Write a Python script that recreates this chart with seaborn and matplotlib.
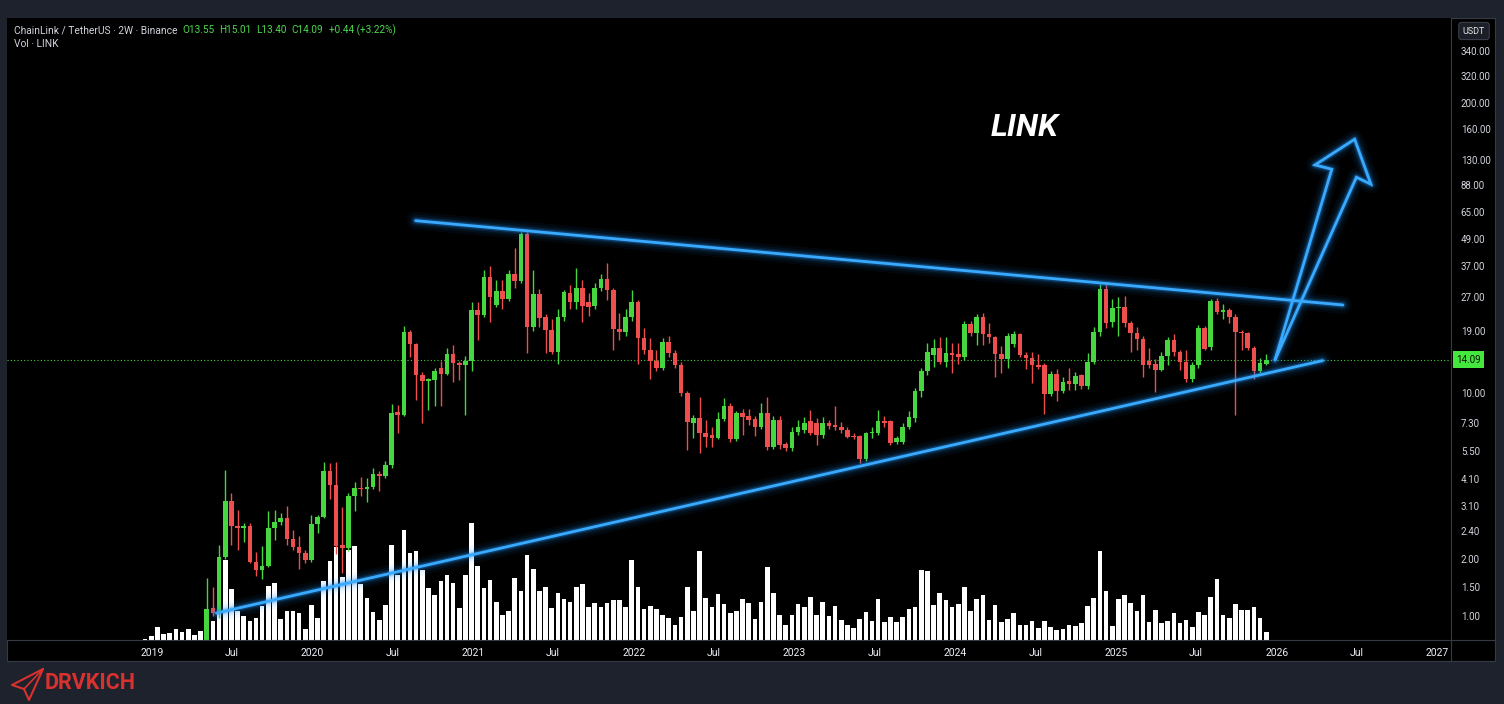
import numpy as np
import pandas as pd
import matplotlib
matplotlib.use("Agg")
import matplotlib.pyplot as plt
from matplotlib.patches import Rectangle
from matplotlib.lines import Line2D
from matplotlib.ticker import NullLocator
import matplotlib.transforms as mtransforms
import seaborn as sns

# LINK / USDT, 2W candles
first_candle = "2018-12-17"

opens = [
    0.30, 0.33, 0.45, 0.44, 0.46, 0.43, 0.44, 0.48, 0.56, 0.50,
    0.55, 1.08, 1.03, 1.83, 3.29, 2.52, 2.49, 2.52, 1.74, 1.60,
    1.68, 2.47, 2.64, 2.74, 2.21, 2.03, 1.91, 1.78, 2.59, 2.79,
    4.47, 3.87, 2.08, 2.01, 3.45, 3.76, 3.70, 3.80, 4.32, 4.25,
    4.75, 8.20, 8.00, 18.8, 16.5, 12.0, 11.36, 11.4, 12.9, 12.2,
    15.0, 13.6, 13.4, 13.9, 23.6, 22.4, 33.2, 24.8, 28.5, 26.4,
    34.1, 31.9, 51.6, 19.8, 27.8, 22.0, 19.2, 15.2, 22.0, 28.1,
    25.7, 29.7, 25.5, 24.5, 29.7, 32.4, 29.0, 19.4, 18.8, 21.8,
    25.7, 17.6, 15.5, 13.9, 12.9, 17.0, 15.1, 13.4, 10.0, 7.31,
    7.70, 6.60, 6.45, 6.30, 7.65, 8.74, 6.20, 8.16, 7.90, 7.65,
    7.00, 8.10, 5.70, 7.56, 5.90, 5.65, 6.71, 6.80, 7.50, 7.30,
    6.48, 7.36, 7.20, 7.00, 6.83, 6.40, 6.40, 5.04, 6.60, 6.60,
    7.50, 7.50, 6.00, 6.00, 7.02, 7.70, 10.2, 12.5, 14.8, 15.9,
    13.8, 15.1, 14.9, 14.5, 20.4, 18.5, 21.8, 18.4, 17.9, 15.0,
    14.2, 16.5, 18.3, 14.8, 14.3, 13.4, 13.4, 9.9, 12.2, 10.2,
    11.3, 11.0, 12.0, 10.7, 13.8, 18.8, 29.2, 20.9, 24.0, 24.3,
    20.5, 18.5, 17.4, 13.9, 13.5, 12.7, 14.6, 17.3, 15.3, 13.8,
    11.5, 13.4, 19.5, 16.1, 25.9, 23.0, 23.6, 22.0, 18.8, 18.5,
    15.9, 12.6, 13.55,
]

highs = [
    0.36, 0.50, 0.52, 0.50, 0.50, 0.48, 0.52, 0.60, 0.62, 0.62,
    1.48, 1.35, 2.08, 4.52, 3.57, 2.99, 2.62, 2.60, 1.94, 2.05,
    2.94, 2.99, 2.89, 3.12, 2.43, 2.28, 1.97, 2.84, 2.83, 4.89,
    4.84, 4.92, 3.09, 3.57, 4.00, 4.21, 4.14, 4.59, 4.48, 4.97,
    8.90, 8.80, 20.0, 19.2, 16.8, 12.4, 11.7, 13.0, 13.9, 15.9,
    16.4, 13.9, 14.7, 25.7, 25.7, 35.6, 37.1, 32.1, 32.1, 35.4,
    44.5, 52.9, 52.5, 35.6, 29.2, 22.5, 21.4, 23.7, 29.0, 30.5,
    36.3, 32.0, 28.2, 31.2, 34.1, 38.4, 29.5, 22.9, 23.9, 28.8,
    26.0, 19.5, 17.6, 15.5, 17.6, 18.0, 15.5, 13.8, 10.2, 7.96,
    9.63, 7.56, 7.00, 8.19, 9.47, 9.00, 8.30, 8.50, 8.50, 7.90,
    9.05, 9.63, 7.90, 7.90, 6.00, 7.06, 7.60, 7.78, 8.39, 7.70,
    7.78, 7.60, 8.74, 7.40, 7.00, 6.60, 6.50, 6.70, 7.06, 8.39,
    7.90, 7.60, 6.40, 7.30, 8.30, 10.5, 13.0, 16.7, 17.4, 17.8,
    17.8, 16.7, 16.7, 21.0, 21.0, 22.5, 22.8, 20.6, 18.0, 16.2,
    18.6, 19.0, 18.6, 15.2, 15.2, 15.0, 13.6, 12.5, 12.8, 11.8,
    13.0, 12.4, 12.1, 15.1, 19.8, 30.8, 30.8, 26.3, 26.9, 27.3,
    21.0, 19.8, 18.0, 15.9, 14.2, 15.3, 17.8, 18.3, 15.6, 15.5,
    13.7, 20.2, 20.0, 26.5, 26.7, 25.0, 24.0, 22.5, 19.2, 18.8,
    16.2, 14.3, 15.01,
]

lows = [
    0.28, 0.32, 0.40, 0.40, 0.42, 0.40, 0.42, 0.45, 0.48, 0.45,
    0.50, 1.00, 0.98, 1.80, 2.08, 1.98, 2.15, 1.72, 1.51, 1.46,
    1.65, 2.19, 2.55, 2.08, 1.98, 1.62, 1.73, 1.74, 2.35, 2.75,
    3.35, 1.90, 1.55, 1.95, 2.97, 3.45, 3.25, 3.70, 3.64, 4.15,
    4.60, 6.60, 7.90, 14.5, 9.30, 7.31, 8.40, 8.74, 8.74, 12.0,
    11.2, 11.4, 7.96, 12.5, 17.2, 22.0, 20.9, 24.2, 23.7, 25.8,
    29.5, 31.0, 15.1, 19.0, 19.8, 15.1, 15.0, 13.5, 21.0, 23.7,
    23.7, 20.9, 22.1, 23.7, 28.5, 26.1, 15.6, 17.3, 18.0, 21.0,
    13.5, 15.0, 11.5, 12.5, 12.7, 14.5, 13.0, 9.70, 5.55, 6.26,
    5.36, 5.74, 5.74, 6.20, 7.50, 6.05, 6.10, 6.48, 7.20, 6.40,
    6.90, 5.55, 5.60, 5.60, 5.50, 5.50, 6.50, 6.60, 6.45, 5.85,
    6.30, 6.90, 6.80, 6.60, 6.26, 6.20, 4.84, 4.95, 6.26, 6.50,
    7.00, 5.85, 5.90, 5.90, 6.90, 7.40, 9.60, 12.0, 13.1, 13.5,
    13.1, 12.3, 13.5, 14.0, 18.0, 16.4, 16.4, 16.8, 11.8, 12.3,
    12.9, 16.0, 14.5, 12.8, 11.05, 12.8, 8.05, 9.70, 9.24, 10.0,
    10.3, 10.3, 10.4, 10.4, 13.5, 18.0, 19.5, 19.8, 18.0, 19.8,
    15.3, 15.5, 11.8, 13.0, 10.1, 12.5, 13.4, 14.6, 12.7, 11.2,
    11.2, 13.0, 15.5, 15.6, 22.5, 21.5, 20.6, 7.96, 15.5, 15.5,
    11.5, 12.3, 13.40,
]

closes = [
    0.33, 0.45, 0.44, 0.46, 0.43, 0.44, 0.48, 0.56, 0.50, 0.55,
    1.07, 1.03, 1.83, 3.29, 2.52, 2.49, 2.52, 1.74, 1.60, 1.68,
    2.47, 2.64, 2.74, 2.21, 2.03, 1.91, 1.78, 2.59, 2.79, 4.47,
    3.87, 2.06, 2.01, 3.45, 3.76, 3.70, 3.80, 4.32, 4.25, 4.75,
    8.16, 8.00, 18.8, 16.5, 12.0, 11.36, 11.5, 12.6, 12.2, 14.96,
    13.6, 13.4, 13.9, 23.6, 22.4, 33.2, 27.0, 28.5, 26.4, 34.1,
    31.9, 51.6, 19.8, 27.8, 21.6, 19.2, 15.2, 22.0, 28.3, 25.7,
    29.7, 24.5, 24.4, 29.7, 32.4, 29.0, 19.4, 18.8, 21.8, 25.7,
    17.6, 15.5, 13.9, 12.9, 17.0, 15.1, 13.4, 9.97, 7.43, 7.70,
    6.60, 6.33, 6.30, 7.65, 8.74, 6.20, 8.16, 7.83, 7.60, 7.06,
    8.10, 5.71, 7.56, 5.85, 5.65, 6.71, 7.06, 7.36, 6.64, 6.48,
    7.36, 7.11, 7.00, 6.83, 6.37, 6.33, 5.04, 6.60, 6.65, 7.51,
    7.30, 5.98, 6.30, 7.02, 7.78, 10.2, 12.5, 15.3, 15.9, 13.8,
    15.1, 14.8, 14.5, 20.4, 18.5, 21.8, 18.4, 17.9, 14.96, 14.2,
    18.0, 18.3, 14.8, 14.3, 13.4, 13.1, 9.9, 12.2, 10.2, 11.2,
    11.0, 11.96, 10.7, 13.8, 18.8, 29.2, 20.5, 24.0, 24.3, 20.5,
    18.5, 17.4, 13.4, 13.4, 12.7, 14.6, 17.3, 15.3, 13.8, 11.5,
    13.4, 19.5, 15.7, 25.9, 23.1, 23.5, 22.0, 18.8, 18.5, 15.9,
    12.6, 13.6, 14.09,
]

# volume, millions of LINK
volumes = [
    3, 9, 27, 13, 15, 23, 17, 23, 10, 19,
    50, 39, 60, 161, 103, 58, 48, 38, 45, 68,
    108, 115, 43, 58, 59, 55, 23, 71, 45, 119,
    159, 186, 126, 181, 188, 113, 85, 56, 40, 71,
    190, 131, 221, 175, 178, 140, 105, 90, 118, 130,
    115, 65, 130, 235, 149, 105, 120, 77, 50, 59,
    125, 99, 171, 143, 99, 106, 65, 95, 82, 77,
    107, 113, 67, 75, 67, 75, 80, 80, 67, 160,
    107, 63, 68, 63, 50, 45, 30, 47, 107, 58,
    179, 85, 66, 93, 73, 55, 58, 83, 74, 43,
    76, 147, 95, 51, 31, 51, 73, 67, 87, 51,
    77, 48, 69, 41, 31, 25, 43, 57, 38, 83,
    37, 46, 37, 47, 63, 66, 141, 139, 71, 95,
    80, 66, 73, 107, 58, 83, 91, 40, 71, 37,
    43, 54, 30, 30, 38, 25, 39, 26, 21, 23,
    30, 29, 34, 69, 85, 179, 99, 28, 83, 90,
    75, 58, 91, 36, 61, 35, 39, 55, 34, 41,
    27, 56, 50, 87, 123, 51, 45, 73, 61, 61,
    67, 45, 16,
]

last_price = 14.09

# drawn trendlines and the breakout arrow
upper_line_dates = ["2020-08-23", "2026-05-31"]
upper_line_prices = [59.2, 24.8]
lower_line_dates = ["2019-05-28", "2026-04-15"]
lower_line_prices = [1.03, 13.96]
arrow_dates = ["2025-12-28", "2026-05-06", "2026-03-29", "2026-06-27",
               "2026-08-03", "2026-07-01", "2025-12-28"]
arrow_prices = [14.06, 100.7, 105.3, 137.3, 86.3, 92.7, 14.06]

# axes labels
x_tick_dates = ["2019-01-01", "2019-07-01", "2020-01-01", "2020-07-01",
                "2021-01-01", "2021-07-01", "2022-01-01", "2022-07-01",
                "2023-01-01", "2023-07-01", "2024-01-01", "2024-07-01",
                "2025-01-01", "2025-07-01", "2026-01-01", "2026-07-01",
                "2027-01-01"]
x_tick_labels = ["2019", "Jul", "2020", "Jul", "2021", "Jul", "2022", "Jul",
                 "2023", "Jul", "2024", "Jul", "2025", "Jul", "2026", "Jul",
                 "2027"]
y_tick_values = [340, 264, 200, 153, 111, 85.6, 65, 49, 37, 27, 19, 10,
                 7.3, 5.5, 4.1, 3.1, 2.4, 1.8, 1.35, 1.0]
y_tick_labels = ["340.00", "320.00", "200.00", "160.00", "130.00", "88.00",
                 "65.00", "49.00", "37.00", "27.00", "19.00", "10.00",
                 "7.30", "5.50", "4.10", "3.10", "2.40", "2.00", "1.50",
                 "1.00"]

GREEN = "#45d640"
RED = "#ee4e4e"
LINE = "#3aaaff"
GLOW = "#1c8cf0"
PAGE = "#1e222d"
SEP = "#363a45"
TXT = "#d1d4dc"

sns.set_style("dark")
plt.rcParams["font.family"] = ["Roboto", "DejaVu Sans"]

W, H = 1504, 704


def fx(x):
    return x / W


def fy(y):
    return 1 - y / H


fig = plt.figure(figsize=(W / 100, H / 100), dpi=100)
fig.patch.set_facecolor(PAGE)

# black chart panel with price scale and time scale
fig.add_artist(Rectangle((fx(7), fy(661)), fx(1495) - fx(7), fy(18) - fy(661),
                         transform=fig.transFigure, facecolor="black",
                         edgecolor=SEP, lw=0.8, zorder=-5))

dates = pd.date_range(first_candle, periods=len(closes), freq="14D")
o = np.array(opens)
c = np.array(closes)
up = c >= o
colors = np.where(up, GREEN, RED)

pos = [fx(7), fy(640), fx(1451) - fx(7), fy(18) - fy(640)]
ax_vol = fig.add_axes(pos)
ax = fig.add_axes(pos, sharex=ax_vol)
ax.set_zorder(ax_vol.get_zorder() + 1)
ax.patch.set_visible(False)
ax_vol.set_facecolor("black")

# volume
ax_vol.bar(dates, volumes, width=10.5, color="white", edgecolor="none")
ax_vol.set_ylim(0, 1250)
ax_vol.set_yticks([])
ax_vol.tick_params(axis="x", length=0, labelbottom=False)

# candles
body_low = np.minimum(o, c)
body_h = np.maximum(np.abs(c - o), body_low * 0.012)
ax.vlines(dates, lows, highs, colors=colors, lw=1.0, zorder=3)
ax.bar(dates, body_h, bottom=body_low, width=10.5, color=colors,
       edgecolor="none", zorder=4)

ax.set_yscale("log")
ax.set_ylim(0.78, 480)
ax.set_xlim(pd.Timestamp("2018-02-06"), pd.Timestamp("2027-02-01"))

# last price line
ax.axhline(last_price, color=GREEN, lw=0.8, ls=(0, (1, 2)), zorder=2)


def glow(xs, ys):
    xs = pd.to_datetime(xs)
    for lw, a in [(13, 0.05), (9, 0.08), (6, 0.14), (3.8, 0.3)]:
        sns.lineplot(x=xs, y=ys, ax=ax, color=GLOW, lw=lw, alpha=a,
                     sort=False, estimator=None, zorder=6,
                     solid_capstyle="round", solid_joinstyle="round")
    sns.lineplot(x=xs, y=ys, ax=ax, color=LINE, lw=2.0, sort=False,
                 estimator=None, zorder=7, solid_capstyle="round",
                 solid_joinstyle="miter")


glow(upper_line_dates, upper_line_prices)
glow(lower_line_dates, lower_line_prices)
glow(arrow_dates, arrow_prices)

ax.set_xlabel("")
ax.set_ylabel("")
for s in list(ax.spines.values()) + list(ax_vol.spines.values()):
    s.set_visible(False)
ax.grid(False)
ax_vol.grid(False)

ax.yaxis.tick_right()
ax.yaxis.set_minor_locator(NullLocator())
ax.set_yticks(y_tick_values)
ax.set_yticklabels(y_tick_labels)
ax.tick_params(axis="y", length=0, pad=7, labelsize=7, labelcolor=TXT)
ax.set_xticks(pd.to_datetime(x_tick_dates))
ax.set_xticklabels(x_tick_labels)
ax.tick_params(axis="x", length=0, pad=6, labelsize=7.5, labelcolor="#eceff4")

# price tag for the last close
trans = mtransforms.blended_transform_factory(ax.transAxes, ax.transData)
ax.text(1.0035, last_price, f"{last_price:.2f}", transform=trans, ha="left",
        va="center", fontsize=7, color="#0b0b0b", zorder=10, clip_on=False,
        bbox=dict(boxstyle="square,pad=0.35", fc="#44e83c", ec="none"))

# separators of the price and time scales
fig.add_artist(Line2D([fx(1451), fx(1451)], [fy(18), fy(661)],
                      transform=fig.transFigure, color=SEP, lw=0.8))
fig.add_artist(Line2D([fx(7), fx(1495)], [fy(640), fy(640)],
                      transform=fig.transFigure, color=SEP, lw=0.8))

fig.text(fx(1474), fy(31), "USDT", ha="center", va="center", fontsize=6.5,
         color="#e6e6e6",
         bbox=dict(boxstyle="round,pad=0.45,rounding_size=0.3", fc="#1c1f27",
                   ec="#3a3e48", lw=0.8))

# legend header
fig.text(fx(14), fy(30), "ChainLink / TetherUS · 2W · Binance", fontsize=7.4,
         color=TXT, va="center")
ohlc_parts = [("O13.55", 182), ("H15.01", 219), ("L13.40", 256),
              ("C14.09", 291), ("+0.44 (+3.22%)", 329)]
for label, xpx in ohlc_parts:
    fig.text(fx(xpx), fy(30), label, fontsize=7.2, color="#4cd84c", va="center")
fig.text(fx(14), fy(44), "Vol · LINK", fontsize=7.4, color=TXT, va="center")

ax.text(0.705, 0.8235, "LINK", transform=ax.transAxes, fontsize=23,
        fontweight="bold", fontstyle="italic", color="white", ha="center",
        va="center")

# logo
plane = [(43, 669), (12, 685), (24, 689), (29, 700), (43, 669)]
fig.add_artist(Line2D([fx(p[0]) for p in plane], [fy(p[1]) for p in plane],
                      transform=fig.transFigure, color="#d8312e", lw=1.5))
fig.add_artist(Line2D([fx(24), fx(43)], [fy(689), fy(669)],
                      transform=fig.transFigure, color="#d8312e", lw=1.2))
fig.text(fx(45), fy(683), "DRVKICH", fontsize=15.5, fontweight="bold",
         color="#d8312e", va="center")

fig.savefig("out.png", dpi=100, facecolor=PAGE)
